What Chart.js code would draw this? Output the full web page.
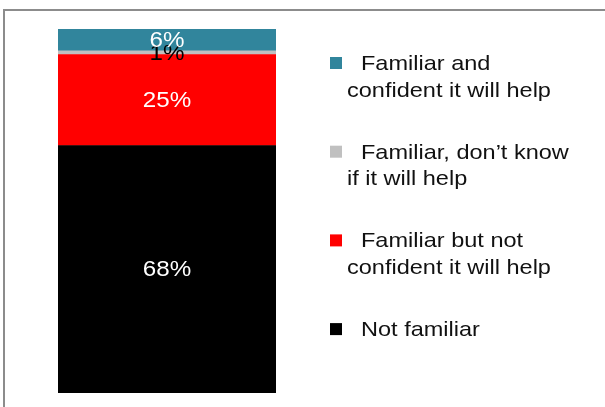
<!DOCTYPE html>
<html>
<head>
<meta charset="utf-8">
<script src="https://cdn.jsdelivr.net/npm/chart.js@4"></script>
<style>
  body { margin: 0; background: #fff; }
  #wrap { width: 605px; height: 407px; }
</style>
</head>
<body>
<div id="wrap"><canvas id="my-chart" width="605" height="407"></canvas></div>
<script>
"use strict";

// Data (bottom of the stack first)
let categories = ["All"];
let seriesNames = [
  "Not familiar",
  "Familiar but not confident it will help",
  "Familiar, don\u2019t know if it will help",
  "Familiar and confident it will help",
];
let notFamiliar = [68];
let notConfident = [25];
let dontKnow = [1];
let confident = [6];
let valueLabels = ["68%", "25%", "1%", "6%"];

// Legend text, top to bottom, already wrapped like the original
let legendLines = [
  ["Familiar and", "confident it will help"],
  ["Familiar, don\u2019t know", "if it will help"],
  ["Familiar but not", "confident it will help"],
  ["Not familiar"],
];

let colors = ["#000000", "#ff0000", "#c0c0c0", "#31859c"];
let labelColors = ["#ffffff", "#ffffff", "#000000", "#ffffff"];

// stretched text helper, the original font is a bit wide
function wideText(ctx, text, x, y, sx) {
  ctx.save();
  ctx.translate(x, y);
  ctx.scale(sx, 1);
  ctx.fillText(text, 0, 0);
  ctx.restore();
}

let extras = {
  id: "extras",
  beforeDraw(chart) {
    let ctx = chart.ctx;
    ctx.save();
    ctx.strokeStyle = "#8c8c8c";
    ctx.lineWidth = 2;
    ctx.beginPath();
    ctx.moveTo(4, 407);
    ctx.lineTo(4, 10);
    ctx.lineTo(605, 10);
    ctx.stroke();
    ctx.restore();
  },
  afterDraw(chart) {
    let ctx = chart.ctx;
    ctx.save();
    ctx.font = "22px 'Liberation Sans', Arial, sans-serif";
    ctx.textAlign = "center";
    ctx.textBaseline = "middle";
    chart.data.datasets.forEach(function (ds, i) {
      let bar = chart.getDatasetMeta(i).data[0];
      let mid = (bar.y + bar.base) / 2;
      ctx.fillStyle = labelColors[i];
      wideText(ctx, valueLabels[i], bar.x, mid + 1, 1.1);
    });

    // legend on the right
    ctx.font = "21px 'Liberation Sans', Arial, sans-serif";
    ctx.textAlign = "left";
    ctx.textBaseline = "alphabetic";
    for (let k = 0; k < legendLines.length; k++) {
      let dsIndex = legendLines.length - 1 - k;
      let baseY = 70 + k * 88.7;
      ctx.fillStyle = colors[dsIndex];
      ctx.fillRect(330, baseY - 13, 12, 12);
      ctx.fillStyle = "#111111";
      let lines = legendLines[k];
      for (let j = 0; j < lines.length; j++) {
        wideText(ctx, lines[j], j === 0 ? 361 : 347, baseY + j * 26.5, 1.12);
      }
    }
    ctx.restore();
  },
};

let ctx = document.getElementById("my-chart").getContext("2d");

let myChart = new Chart(ctx, {
  type: "bar",
  data: {
    labels: categories,
    datasets: [
      { label: seriesNames[0], data: notFamiliar, backgroundColor: colors[0] },
      { label: seriesNames[1], data: notConfident, backgroundColor: colors[1] },
      { label: seriesNames[2], data: dontKnow, backgroundColor: colors[2] },
      { label: seriesNames[3], data: confident, backgroundColor: colors[3] },
    ],
  },
  options: {
    responsive: false,
    animation: false,
    layout: {
      padding: { left: 58, right: 329, top: 29, bottom: 14 },
    },
    datasets: {
      bar: { categoryPercentage: 1, barPercentage: 1, borderWidth: 0 },
    },
    plugins: {
      legend: { display: false },
      tooltip: { enabled: false },
    },
    scales: {
      x: { stacked: true, display: false },
      y: { stacked: true, display: false, min: 0, max: 100 },
    },
  },
  plugins: [extras],
});
</script>
</body>
</html>
